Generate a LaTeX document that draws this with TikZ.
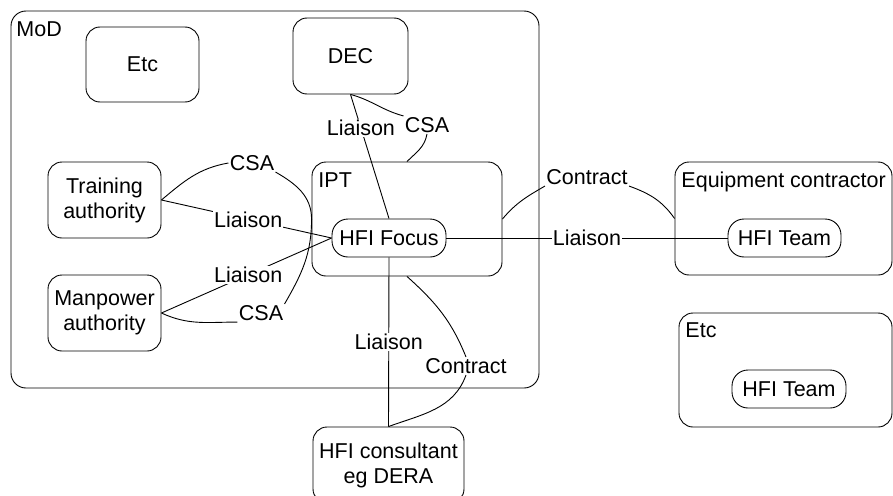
\documentclass[tikz,border=0pt]{standalone}
\usepackage{fontspec}
\setmainfont{Liberation Sans}
\begin{document}
\begin{tikzpicture}[x=1pt,y=-1pt,
  font=\fontsize{21.5}{25}\selectfont,
  line width=0.9pt,
  box/.style={draw, rounded corners=14pt, align=center, inner sep=0pt},
  pill/.style={draw, rounded corners=16pt, inner sep=0pt, minimum height=38pt},
  lbl/.style={fill=white, inner sep=1pt},
  tag/.style={anchor=base west, inner sep=0pt}]
\useasboundingbox (0,0) rectangle (893,495);

% organisations
\node[box, rounded corners=15pt, minimum width=528pt, minimum height=377pt] (mod) at (275,199.5) {};
\node[tag] (modtag) at (16,37) {MoD};
\node[box, minimum width=113pt, minimum height=75pt] (etcA) at (142.5,64.5) {Etc};
\node[box, minimum width=115pt, minimum height=76pt] (dec) at (350.5,56) {DEC};
\node[box, minimum width=113pt, minimum height=76pt] (train) at (104.5,200) {Training\\authority};
\node[box, minimum width=113pt, minimum height=76pt] (manp) at (104.5,313) {Manpower\\authority};
\node[box, minimum width=190pt, minimum height=114pt] (ipt) at (407,219) {};
\node[tag] (ipttag) at (318,187) {IPT};
\node[pill, minimum width=114pt] (focus) at (389,238) {HFI Focus};

\node[box, minimum width=217pt, minimum height=113pt] (eq) at (783.5,218.5) {};
\node[tag] (eqtag) at (681,187) {Equipment contractor};
\node[pill, minimum width=113pt] (team1) at (784.5,238) {HFI Team};

\node[box, minimum width=213pt, minimum height=114pt] (etcB) at (785.5,370) {};
\node[tag] (etcBtag) at (685,337) {Etc};
\node[pill, minimum width=114pt] (team2) at (789,389) {HFI Team};

\node[box, minimum width=151pt, minimum height=76pt] (cons) at (388.5,465) {HFI consultant\\eg DERA};

% labels of the curved agreements
\node[lbl] (csaD) at (427,125) {CSA};
\node[lbl] (csaT) at (252,163) {CSA};
\node[lbl] (csaM) at (261,313) {CSA};
\node[lbl] (conE) at (587,177) {Contract};
\node[lbl] (conC) at (466,366) {Contract};

% contracts and service agreements
\draw (dec.south) to[out=-15,in=165] (csaD.north west);
\draw (csaD.south) to[out=-100,in=45] (ipt.north);
\draw (train.east) to[out=40,in=190] (csaT.west);
\draw (csaT.south east) to[out=-30,in=90] (ipt.west);
\draw (manp.east) to[out=-25,in=180] (csaM.south west);
\draw (csaM.north east) to[out=60,in=-90] (ipt.west);
\draw (ipt.east) to[out=50,in=210] (conE.south west);
\draw (conE.south east) to[out=-20,in=125] (eq.west);
\draw (ipt.south) to[out=-42,in=112] (conC.north);
\draw (conC.south) to[out=-110,in=20] (cons.north);

% liaison links
\draw (dec.south) -- (focus.north) node[lbl,pos=0.27] {Liaison};
\draw (train.east) -- (focus.west) node[lbl,pos=0.51] {Liaison};
\draw (manp.east) -- (focus.west) node[lbl,pos=0.51] {Liaison};
\draw (focus.east) -- (team1.west) node[lbl,pos=0.5] {Liaison};
\draw (focus.south) -- (cons.north) node[lbl,pos=0.5] {Liaison};
\end{tikzpicture}
\end{document}
